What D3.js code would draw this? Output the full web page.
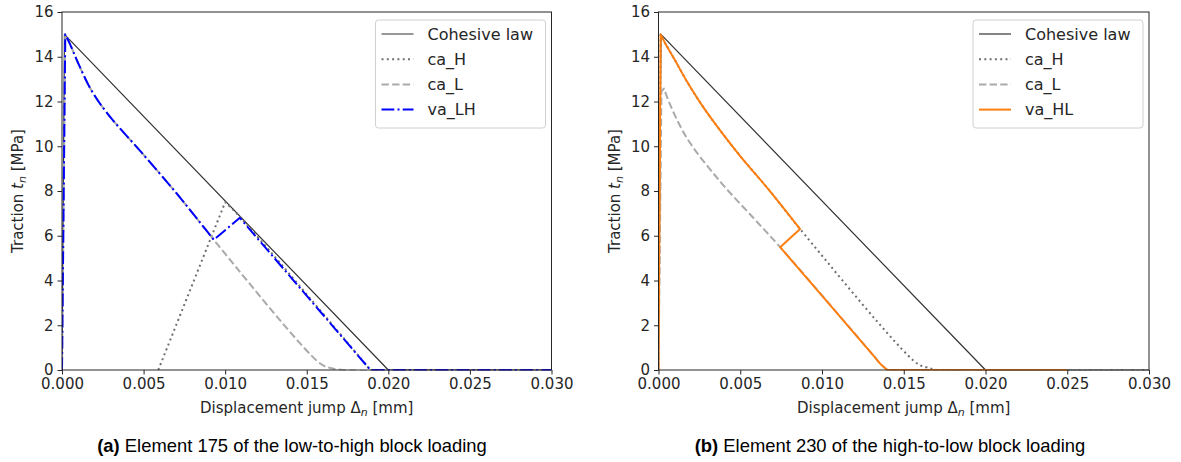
<!DOCTYPE html>
<html>
<head>
<meta charset="utf-8">
<script src="https://cdn.jsdelivr.net/npm/d3@7"></script>
<style>
    body { margin: 0; background: #fff; }
    svg text { font-family: "DejaVu Sans", sans-serif; fill: #262626; }
    .caption { font-family: "Liberation Sans", Arial, sans-serif; fill: #000; }
</style>
</head>
<body>
<svg id="chart" width="1181" height="462"></svg>
<script>
// Valeurs : [saut de déplacement (mm), traction (MPa)]
const xTicks = [0, 0.005, 0.010, 0.015, 0.020, 0.025, 0.030];
const yTicks = [0, 2, 4, 6, 8, 10, 12, 14, 16];

const cohesiveLaw = [[0, 0], [0.00015, 15], [0.020, 0], [0.030, 0]];

// (a) bloc bas -> haut
const caH_a = [[0.0059, 0], [0.0100, 7.5], [0.0109, 6.85], [0.0189, 0], [0.030, 0]];
const caL_a = [[0, 0], [0.0002, 15], [0.00047, 14.6], [0.0010, 13.7], [0.0018, 12.5],
    [0.0028, 11.45], [0.0049, 9.7], [0.0069, 8.0], [0.00845, 6.6], [0.0093, 5.82],
    [0.0158, 0.3], [0.0164, 0.1], [0.0172, 0], [0.030, 0]];
const vaLH = [[0, 0], [0.0002, 15], [0.00047, 14.6], [0.0010, 13.7], [0.0018, 12.5],
    [0.0028, 11.45], [0.0049, 9.7], [0.0069, 8.0], [0.00845, 6.6], [0.0093, 5.82],
    [0.0109, 6.8], [0.0189, 0], [0.030, 0]];

// (b) bloc haut -> bas
const caH_b = [[0, 0], [0.00013, 15], [0.00045, 14.55], [0.00095, 13.92], [0.00176, 12.87],
    [0.0028, 11.68], [0.0048, 9.74], [0.0069, 7.92], [0.00866, 6.3],
    [0.0158, 0.3], [0.0164, 0.12], [0.0171, 0], [0.030, 0]];
const caL_b = [[0, 0], [0.00018, 12.45], [0.00034, 12.58], [0.00064, 11.98], [0.00176, 10.34],
    [0.0038, 8.4], [0.00585, 6.76], [0.00744, 5.49], [0.0132, 0.6], [0.0136, 0.25],
    [0.0140, 0], [0.030, 0]];
const vaHL = [[0, 0], [0.00013, 15], [0.00045, 14.55], [0.00095, 13.92], [0.00176, 12.87],
    [0.0028, 11.68], [0.0048, 9.74], [0.0069, 7.92], [0.00866, 6.3],
    [0.00744, 5.49], [0.0132, 0.6], [0.0136, 0.25], [0.0140, 0], [0.025, 0]];

const styles = {
    cohesive: { color: "#333", width: 1.2, dash: null },
    caH: { color: "#707070", width: 2, dash: "2,3.3" },
    caL: { color: "#aaaaaa", width: 2, dash: "7.4,3.2" },
    vaLH: { color: "#0000ff", width: 2, dash: "12.8,3.2,2,3.2" },
    vaHL: { color: "#ff7f0e", width: 2, dash: null }
};

const svg = d3.select("#chart");
const smooth = d3.line().curve(d3.curveCatmullRom.alpha(0.5));

// lisse les parties courbes, garde les angles vifs (rechargement, pic)
function smoothPath(pts) {
    const pieces = [];
    let cur = [pts[0]];
    for (let i = 1; i < pts.length; i++) {
        cur.push(pts[i]);
        if (i < pts.length - 1) {
            const a1 = Math.atan2(pts[i][1] - pts[i - 1][1], pts[i][0] - pts[i - 1][0]);
            const a2 = Math.atan2(pts[i + 1][1] - pts[i][1], pts[i + 1][0] - pts[i][0]);
            let da = Math.abs(a2 - a1);
            if (da > Math.PI) da = 2 * Math.PI - da;
            if (da > 35 * Math.PI / 180) {
                pieces.push(cur);
                cur = [pts[i]];
            }
        }
    }
    pieces.push(cur);
    return pieces.map((p, i) => {
        const s = smooth(p);
        return i === 0 ? s : "L" + s.slice(1);
    }).join("");
}

function drawPanel(opt) {
    const top = 12, bottom = 370;
    const x = d3.scaleLinear().domain([0, 0.03]).range([opt.left, opt.right]);
    const y = d3.scaleLinear().domain([0, 16]).range([bottom, top]);
    const g = svg.append("g");

    const clipId = "clip-" + opt.id;
    g.append("clipPath").attr("id", clipId)
        .append("rect")
        .attr("x", opt.left).attr("y", top)
        .attr("width", opt.right - opt.left).attr("height", bottom - top + 0.5);

    const plot = g.append("g").attr("clip-path", `url(#${clipId})`);
    opt.series.forEach(s => {
        const st = styles[s.style];
        plot.append("path")
            .attr("fill", "none")
            .attr("stroke", st.color)
            .attr("stroke-width", st.width)
            .attr("stroke-dasharray", st.dash)
            .attr("stroke-linejoin", "round")
            .attr("d", smoothPath(s.data.map(d => [x(d[0]), y(d[1])])));
    });

    // axes
    const xAxis = g.append("g")
        .attr("transform", `translate(0,${bottom})`)
        .call(d3.axisBottom(x).tickValues(xTicks).tickFormat(d3.format(".3f"))
            .tickSize(4.5).tickPadding(4).tickSizeOuter(0));
    const yAxis = g.append("g")
        .attr("transform", `translate(${opt.left},0)`)
        .call(d3.axisLeft(y).tickValues(yTicks).tickFormat(d3.format("d"))
            .tickSize(4.5).tickPadding(4).tickSizeOuter(0));
    [xAxis, yAxis].forEach(a => {
        a.select(".domain").remove();
        a.selectAll("line").attr("stroke", "#262626");
        a.selectAll("text").attr("font-size", 15).attr("fill", "#262626")
            .style("font-family", "'DejaVu Sans', sans-serif");
    });

    g.append("rect")
        .attr("x", opt.left).attr("y", top)
        .attr("width", opt.right - opt.left).attr("height", bottom - top)
        .attr("fill", "none").attr("stroke", "#262626").attr("stroke-width", 1);

    // axis labels
    const xl = g.append("text")
        .attr("x", (opt.left + opt.right) / 2).attr("y", 413)
        .attr("text-anchor", "middle").attr("font-size", 15);
    xl.append("tspan").text("Displacement jump Δ");
    xl.append("tspan").attr("font-style", "italic").attr("font-size", 11).attr("dy", 3).text("n");
    xl.append("tspan").attr("dy", -3).text(" [mm]");

    const yl = g.append("text")
        .attr("transform", `translate(${opt.left - 39},${(top + bottom) / 2}) rotate(-90)`)
        .attr("text-anchor", "middle").attr("font-size", 15);
    yl.append("tspan").text("Traction ");
    yl.append("tspan").attr("font-style", "italic").text("t");
    yl.append("tspan").attr("font-style", "italic").attr("font-size", 11).attr("dy", 3).text("n");
    yl.append("tspan").attr("dy", -3).text(" [MPa]");

    // legend
    const lx = opt.right - 176, ly = 20;
    const leg = g.append("g");
    leg.append("rect")
        .attr("x", lx).attr("y", ly).attr("width", 170).attr("height", 108)
        .attr("rx", 3).attr("fill", "#fff").attr("fill-opacity", 0.8)
        .attr("stroke", "#d0d0d0").attr("stroke-width", 1);
    opt.series.forEach((s, i) => {
        const st = styles[s.style];
        const yy = 34 + i * 25.2;
        leg.append("line")
            .attr("x1", lx + 6).attr("x2", lx + 38).attr("y1", yy).attr("y2", yy)
            .attr("stroke", st.color).attr("stroke-width", st.width)
            .attr("stroke-dasharray", st.dash);
        leg.append("text")
            .attr("x", lx + 52).attr("y", yy).attr("dy", "0.35em")
            .attr("font-size", 16).text(s.name);
    });

    // sub-caption
    const cap = g.append("text").attr("class", "caption")
        .attr("x", opt.captionX).attr("y", 452)
        .attr("text-anchor", "middle").attr("font-size", 18.4);
    cap.append("tspan").attr("font-weight", "bold").text(opt.tag);
    cap.append("tspan").text(" " + opt.caption);
}

drawPanel({
    id: "a", left: 62, right: 551.5, captionX: 292, tag: "(a)",
    caption: "Element 175 of the low-to-high block loading",
    series: [
        { name: "Cohesive law", style: "cohesive", data: cohesiveLaw },
        { name: "ca_H", style: "caH", data: caH_a },
        { name: "ca_L", style: "caL", data: caL_a },
        { name: "va_LH", style: "vaLH", data: vaLH }
    ]
});

drawPanel({
    id: "b", left: 658.5, right: 1149, captionX: 890, tag: "(b)",
    caption: "Element 230 of the high-to-low block loading",
    series: [
        { name: "Cohesive law", style: "cohesive", data: cohesiveLaw },
        { name: "ca_H", style: "caH", data: caH_b },
        { name: "ca_L", style: "caL", data: caL_b },
        { name: "va_HL", style: "vaHL", data: vaHL }
    ]
});
</script>
</body>
</html>
